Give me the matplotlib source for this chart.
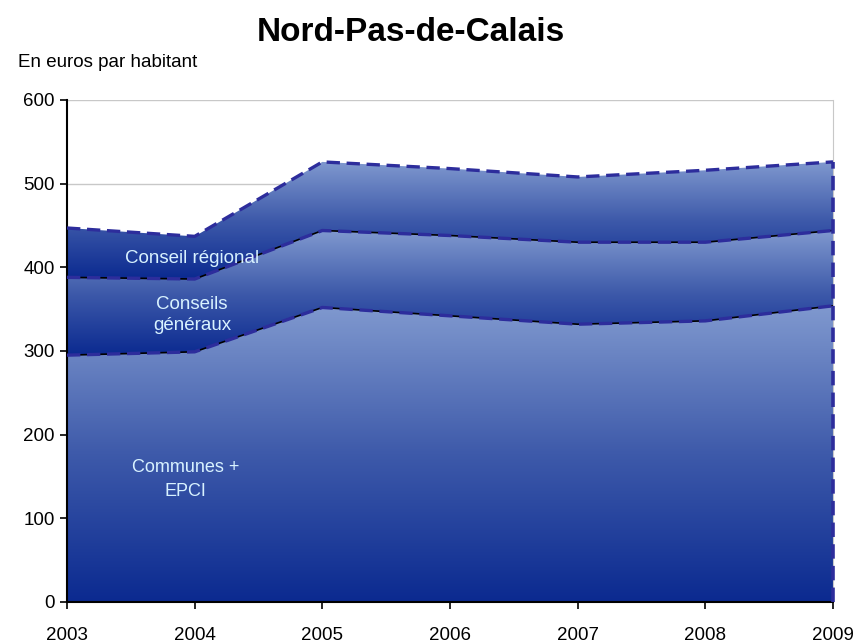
import numpy as np
import matplotlib
matplotlib.use("Agg")
import matplotlib.pyplot as plt
from matplotlib.colors import LinearSegmentedColormap

plt.rcParams['font.family'] = ['Liberation Sans', 'DejaVu Sans']

years = [2003, 2004, 2005, 2006, 2007, 2008, 2009]
communes_epci = [295, 299, 352, 342, 332, 336, 354]
conseils_generaux = [93, 87, 92, 96, 98, 94, 90]
conseil_regional = [59, 51, 82, 80, 78, 86, 82]
band_labels = ["Communes +\nEPCI", "Conseils\ngénéraux", "Conseil régional"]

fig = plt.figure(figsize=(8.57, 6.43), dpi=100)
ax = fig.add_axes([0.0782, 0.0638, 0.972 - 0.0782, 0.8445 - 0.0638])

x = np.array(years, dtype=float)
s1 = np.array(communes_epci, dtype=float)
s2 = s1 + np.array(conseils_generaux)
s3 = s2 + np.array(conseil_regional)

cmap = LinearSegmentedColormap.from_list("g", ["#0b2a90", "#3e5aaa", "#8099cf"])
grad = np.linspace(0, 1, 256).reshape(-1, 1)

ax.set_xlim(2003, 2009)
ax.set_ylim(0, 600)
for yv in [100, 200, 300, 400, 500, 600]:
    ax.axhline(yv, color="#c8c8c8", lw=1, zorder=0)

bands = [(np.zeros_like(s1), s1), (s1, s2), (s2, s3)]
for lo, hi in bands:
    poly = ax.fill_between(x, lo, hi, color="none", lw=0)
    ymin, ymax = lo.min(), hi.max()
    im = ax.imshow(grad, extent=[2003, 2009, ymin, ymax], origin="lower",
                   aspect="auto", cmap=cmap, zorder=1)
    path = poly.get_paths()[0]
    im.set_clip_path(path, transform=ax.transData)

ax.set_xlim(2003, 2009)
ax.set_ylim(0, 600)

for s in [s1, s2]:
    ax.plot(x, s, color="black", lw=1.2, zorder=3)
    ax.plot(x, s, color="#2d2d9c", lw=2.4, ls=(0, (4, 2)), zorder=4)
ax.plot(x, s3, color="#2d2d9c", lw=2.4, ls=(0, (4, 2)), zorder=4)
ax.plot([2009, 2009], [0, s3[-1]], color="#2d2d9c", lw=2.6, ls=(0, (4, 2)), zorder=4, clip_on=False)

tc = "#d8f2ff"
ax.text(2003.98, 411, band_labels[2], color=tc, fontsize=13.5, ha="center", va="center", zorder=5)
ax.text(2003.98, 343, band_labels[1], color=tc, fontsize=13.5, ha="center", va="center", zorder=5, linespacing=1.35)
ax.text(2003.93, 146, band_labels[0], color=tc, fontsize=13, ha="center", va="center", zorder=5, linespacing=1.55)

ax.set_xticks(years)
ax.set_xticklabels([str(y) for y in years])
ax.set_yticks([0, 100, 200, 300, 400, 500, 600])
ax.tick_params(axis="both", labelsize=13.5, direction="out", length=5, width=1.2, color="black")
ax.tick_params(axis="x", pad=13)
ax.tick_params(axis="y", pad=4)
ax.spines["top"].set_visible(False)
ax.spines["right"].set_color("#c8c8c8")
ax.spines["left"].set_linewidth(1.5)
ax.spines["bottom"].set_linewidth(1.5)

fig.text(0.48, 0.95, "Nord-Pas-de-Calais", fontsize=24, fontweight="bold", ha="center", va="center")
fig.text(0.021, 0.903, "En euros par habitant", fontsize=13.5, ha="left", va="center")

fig.savefig("out.png", dpi=100)
